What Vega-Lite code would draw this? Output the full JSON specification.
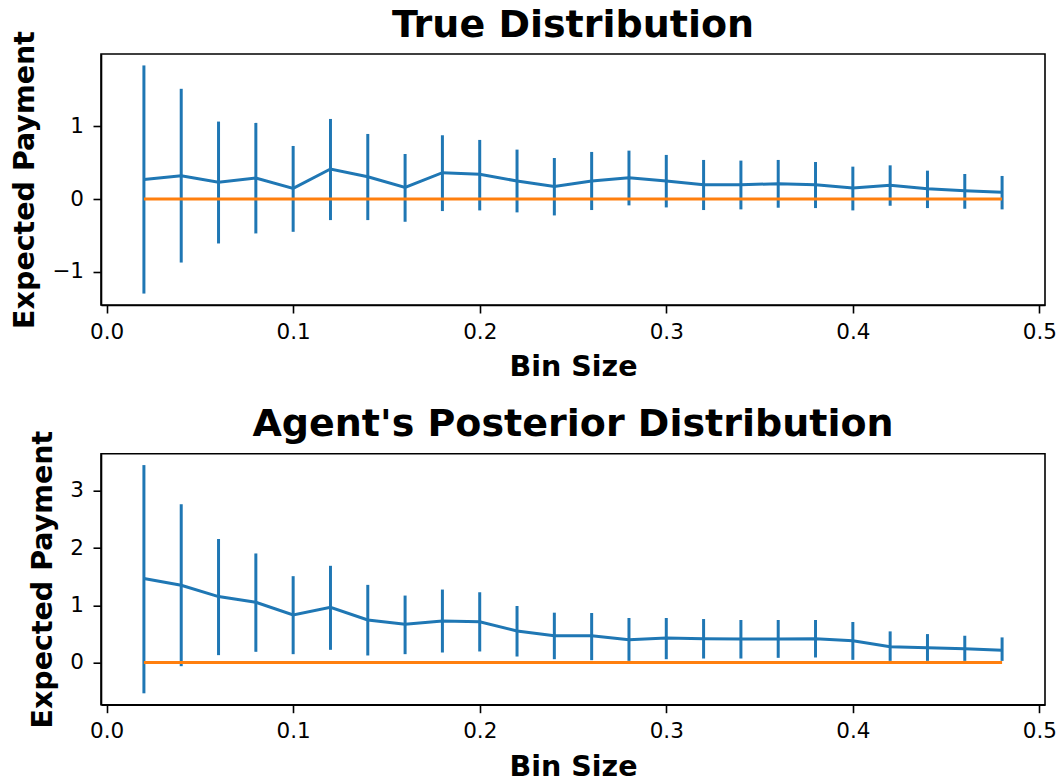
{
  "$schema": "https://vega.github.io/schema/vega-lite/v6.json",
  "background": "white",
  "padding": {"left": 10, "top": 5, "right": 5, "bottom": 0},
  "datasets": {
    "trueDist": [
      {"bin": 0.02, "mean": 0.27, "lo": -1.298, "hi": 1.835, "truth": 0},
      {"bin": 0.04, "mean": 0.32, "lo": -0.872, "hi": 1.514, "truth": 0},
      {"bin": 0.06, "mean": 0.23, "lo": -0.61, "hi": 1.064, "truth": 0},
      {"bin": 0.08, "mean": 0.29, "lo": -0.472, "hi": 1.046, "truth": 0},
      {"bin": 0.10, "mean": 0.147, "lo": -0.45, "hi": 0.729, "truth": 0},
      {"bin": 0.12, "mean": 0.413, "lo": -0.289, "hi": 1.10, "truth": 0},
      {"bin": 0.14, "mean": 0.307, "lo": -0.289, "hi": 0.894, "truth": 0},
      {"bin": 0.16, "mean": 0.16, "lo": -0.312, "hi": 0.619, "truth": 0},
      {"bin": 0.18, "mean": 0.362, "lo": -0.165, "hi": 0.876, "truth": 0},
      {"bin": 0.20, "mean": 0.339, "lo": -0.156, "hi": 0.812, "truth": 0},
      {"bin": 0.22, "mean": 0.248, "lo": -0.183, "hi": 0.679, "truth": 0},
      {"bin": 0.24, "mean": 0.174, "lo": -0.225, "hi": 0.564, "truth": 0},
      {"bin": 0.26, "mean": 0.248, "lo": -0.151, "hi": 0.647, "truth": 0},
      {"bin": 0.28, "mean": 0.294, "lo": -0.087, "hi": 0.665, "truth": 0},
      {"bin": 0.30, "mean": 0.248, "lo": -0.115, "hi": 0.606, "truth": 0},
      {"bin": 0.32, "mean": 0.197, "lo": -0.151, "hi": 0.537, "truth": 0},
      {"bin": 0.34, "mean": 0.197, "lo": -0.142, "hi": 0.528, "truth": 0},
      {"bin": 0.36, "mean": 0.211, "lo": -0.119, "hi": 0.537, "truth": 0},
      {"bin": 0.38, "mean": 0.197, "lo": -0.124, "hi": 0.509, "truth": 0},
      {"bin": 0.40, "mean": 0.151, "lo": -0.156, "hi": 0.445, "truth": 0},
      {"bin": 0.42, "mean": 0.188, "lo": -0.092, "hi": 0.463, "truth": 0},
      {"bin": 0.44, "mean": 0.142, "lo": -0.124, "hi": 0.39, "truth": 0},
      {"bin": 0.46, "mean": 0.115, "lo": -0.133, "hi": 0.344, "truth": 0},
      {"bin": 0.48, "mean": 0.092, "lo": -0.142, "hi": 0.317, "truth": 0}
    ],
    "posterior": [
      {"bin": 0.02, "mean": 1.468, "lo": -0.538, "hi": 3.45, "truth": 0},
      {"bin": 0.04, "mean": 1.351, "lo": -0.064, "hi": 2.766, "truth": 0},
      {"bin": 0.06, "mean": 1.152, "lo": 0.129, "hi": 2.158, "truth": 0},
      {"bin": 0.08, "mean": 1.053, "lo": 0.187, "hi": 1.906, "truth": 0},
      {"bin": 0.10, "mean": 0.83, "lo": 0.146, "hi": 1.509, "truth": 0},
      {"bin": 0.12, "mean": 0.965, "lo": 0.222, "hi": 1.69, "truth": 0},
      {"bin": 0.14, "mean": 0.743, "lo": 0.123, "hi": 1.357, "truth": 0},
      {"bin": 0.16, "mean": 0.667, "lo": 0.146, "hi": 1.17, "truth": 0},
      {"bin": 0.18, "mean": 0.725, "lo": 0.175, "hi": 1.275, "truth": 0},
      {"bin": 0.20, "mean": 0.713, "lo": 0.193, "hi": 1.228, "truth": 0},
      {"bin": 0.22, "mean": 0.55, "lo": 0.105, "hi": 0.988, "truth": 0},
      {"bin": 0.24, "mean": 0.468, "lo": 0.058, "hi": 0.871, "truth": 0},
      {"bin": 0.26, "mean": 0.468, "lo": 0.041, "hi": 0.865, "truth": 0},
      {"bin": 0.28, "mean": 0.398, "lo": 0.029, "hi": 0.778, "truth": 0},
      {"bin": 0.30, "mean": 0.427, "lo": 0.058, "hi": 0.778, "truth": 0},
      {"bin": 0.32, "mean": 0.415, "lo": 0.07, "hi": 0.76, "truth": 0},
      {"bin": 0.34, "mean": 0.409, "lo": 0.07, "hi": 0.743, "truth": 0},
      {"bin": 0.36, "mean": 0.409, "lo": 0.082, "hi": 0.743, "truth": 0},
      {"bin": 0.38, "mean": 0.415, "lo": 0.088, "hi": 0.743, "truth": 0},
      {"bin": 0.40, "mean": 0.38, "lo": 0.047, "hi": 0.708, "truth": 0},
      {"bin": 0.42, "mean": 0.275, "lo": 0.029, "hi": 0.544, "truth": 0},
      {"bin": 0.44, "mean": 0.257, "lo": 0.029, "hi": 0.497, "truth": 0},
      {"bin": 0.46, "mean": 0.24, "lo": 0.029, "hi": 0.468, "truth": 0},
      {"bin": 0.48, "mean": 0.216, "lo": 0.029, "hi": 0.439, "truth": 0}
    ]
  },
  "config": {
    "font": "DejaVu Sans",
    "view": {"stroke": "black", "strokeWidth": 1.6},
    "axis": {
      "grid": false,
      "domainColor": "black",
      "domainWidth": 1.6,
      "tickColor": "black",
      "tickWidth": 1.6,
      "tickSize": 8,
      "labelFont": "DejaVu Sans",
      "labelFontSize": 21.5,
      "labelColor": "black",
      "labelFlush": false,
      "titleFont": "DejaVu Sans",
      "titleFontSize": 28.5,
      "titleFontWeight": "bold",
      "titleColor": "black"
    },
    "axisX": {"labelPadding": 8, "titlePadding": 10},
    "axisY": {"labelPadding": 9.5, "titlePadding": 12},
    "title": {
      "font": "DejaVu Sans",
      "fontSize": 38,
      "fontWeight": "bold",
      "color": "black",
      "anchor": "middle",
      "baseline": "alphabetic",
      "offset": -14
    }
  },
  "bounds": "flush",
  "spacing": 148.7,
  "vconcat": [
    {
      "title": "True Distribution",
      "width": 944,
      "height": 251,
      "data": {"name": "trueDist"},
      "layer": [
        {
          "mark": {"type": "rule", "color": "#1f77b4", "strokeWidth": 3},
          "encoding": {
            "x": {"field": "bin", "type": "quantitative", "scale": {"domain": [-0.003, 0.503], "nice": false, "zero": false},
              "axis": {"values": [0, 0.1, 0.2, 0.3, 0.4, 0.5], "format": ".1f", "title": "Bin Size"}},
            "y": {"field": "lo", "type": "quantitative", "scale": {"domain": [-1.455, 1.992], "nice": false, "zero": false},
              "axis": {"values": [-1, 0, 1], "format": "d", "title": "Expected Payment"}},
            "y2": {"field": "hi"}
          }
        },
        {
          "mark": {"type": "line", "color": "#1f77b4", "strokeWidth": 3},
          "encoding": {
            "x": {"field": "bin", "type": "quantitative"},
            "y": {"field": "mean", "type": "quantitative"}
          }
        },
        {
          "mark": {"type": "line", "color": "#ff7f0e", "strokeWidth": 3},
          "encoding": {
            "x": {"field": "bin", "type": "quantitative"},
            "y": {"field": "truth", "type": "quantitative"}
          }
        }
      ]
    },
    {
      "title": "Agent's Posterior Distribution",
      "width": 944,
      "height": 251,
      "data": {"name": "posterior"},
      "layer": [
        {
          "mark": {"type": "rule", "color": "#1f77b4", "strokeWidth": 3},
          "encoding": {
            "x": {"field": "bin", "type": "quantitative", "scale": {"domain": [-0.003, 0.503], "nice": false, "zero": false},
              "axis": {"values": [0, 0.1, 0.2, 0.3, 0.4, 0.5], "format": ".1f", "title": "Bin Size"}},
            "y": {"field": "lo", "type": "quantitative", "scale": {"domain": [-0.737, 3.649], "nice": false, "zero": false},
              "axis": {"values": [0, 1, 2, 3], "format": "d", "title": "Expected Payment"}},
            "y2": {"field": "hi"}
          }
        },
        {
          "mark": {"type": "line", "color": "#1f77b4", "strokeWidth": 3},
          "encoding": {
            "x": {"field": "bin", "type": "quantitative"},
            "y": {"field": "mean", "type": "quantitative"}
          }
        },
        {
          "mark": {"type": "line", "color": "#ff7f0e", "strokeWidth": 3},
          "encoding": {
            "x": {"field": "bin", "type": "quantitative"},
            "y": {"field": "truth", "type": "quantitative"}
          }
        }
      ]
    }
  ]
}
